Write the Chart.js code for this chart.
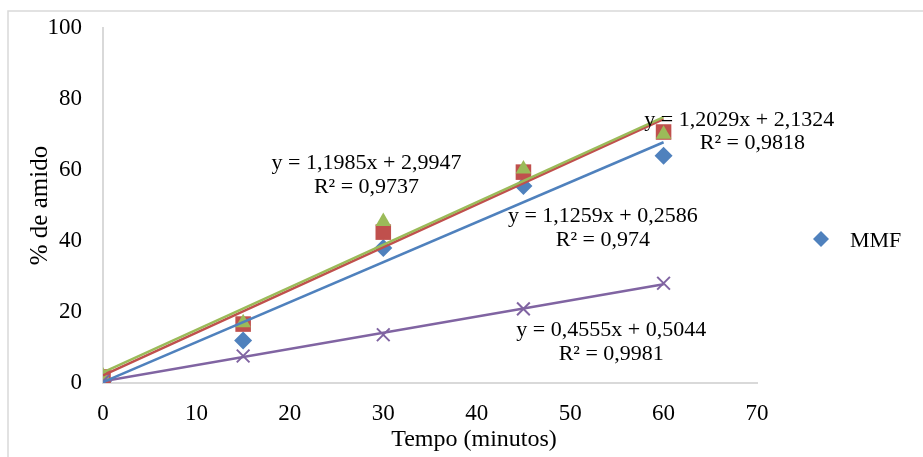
<!DOCTYPE html>
<html>
<head>
<meta charset="utf-8">
<script src="https://cdn.jsdelivr.net/npm/chart.js@4"></script>
<style>
  html, body { margin: 0; padding: 0; background: #fff; }
  #wrap { width: 923px; height: 457px; }
</style>
</head>
<body>
<div id="wrap"><canvas id="graph" width="923" height="457"></canvas></div>
<script>
// tempo (minutos)
const tempos = [0, 15, 30, 45, 60];

// % de amido por serie
const mmf = [0.5, 12, 38, 55.5, 64];
const serieVermelha = [1.7, 16.6, 42.5, 59.4, 70.7];
const serieVerde = [2, 17, 45.5, 60.3, 70.1];
const serieRoxa = [0.5, 7.6, 13.6, 20.9, 28.1];

const tendAzul = [1.1259, 0.2586];
const tendVermelha = [1.2029, 2.1324];
const tendVerde = [1.1985, 2.9947];
const tendRoxa = [0.4555, 0.5044];

const yTicks = [0, 20, 40, 60, 80, 100];
const xTicks = [0, 10, 20, 30, 40, 50, 60, 70];

const equacoes = [
  { text: "y = 1,1985x + 2,9947", x: 28.2, y: 62.0 },
  { text: "R² = 0,9737", x: 28.2, y: 55.2 },
  { text: "y = 1,2029x + 2,1324", x: 68.1, y: 73.9 },
  { text: "R² = 0,9818", x: 69.5, y: 67.6 },
  { text: "y = 1,1259x + 0,2586", x: 53.5, y: 47.1 },
  { text: "R² = 0,974", x: 53.5, y: 40.3 },
  { text: "y = 0,4555x + 0,5044", x: 54.4, y: 15.0 },
  { text: "R² = 0,9981", x: 54.4, y: 8.2 },
];

const AZUL = "#4F81BD";
const VERMELHO = "#C0504D";
const VERDE = "#9BBB59";
const ROXO = "#8064A2";
const SERIF = "'Liberation Serif', 'Times New Roman', serif";

const toPoints = (vals) => tempos.map((t, i) => ({ x: t, y: vals[i] }));
const trendPoints = ([m, b]) => [
  { x: tempos[0], y: m * tempos[0] + b },
  { x: tempos[tempos.length - 1], y: m * tempos[tempos.length - 1] + b },
];

const trendLine = (coef, color, order) => ({
  type: "line",
  data: trendPoints(coef),
  borderColor: color,
  borderWidth: 2.5,
  pointRadius: 0,
  fill: false,
  order: order,
});

// moldura cinza em volta do grafico
const frame = {
  id: "frame",
  beforeDraw(chart) {
    const ctx = chart.ctx;
    ctx.save();
    ctx.strokeStyle = "#d9d9d9";
    ctx.lineWidth = 1.5;
    ctx.strokeRect(8, 11, 1000, 600);
    ctx.restore();
  },
};

// textos das equacoes + titulo do eixo x (deslocado como no Excel)
const eqLabels = {
  id: "eqLabels",
  afterDatasetsDraw(chart) {
    const { ctx, scales, chartArea } = chart;
    ctx.save();
    ctx.font = "22px " + SERIF;
    ctx.fillStyle = "#000";
    ctx.textAlign = "center";
    ctx.textBaseline = "middle";
    equacoes.forEach((e) => {
      ctx.fillText(e.text, scales.x.getPixelForValue(e.x), scales.y.getPixelForValue(e.y));
    });
    ctx.font = "24px " + SERIF;
    ctx.fillText("Tempo (minutos)", (chartArea.left + chartArea.right) / 2 + 44, chartArea.bottom + 57);
    ctx.restore();
  },
};

// legenda so com MMF
const sideLegend = {
  id: "sideLegend",
  afterDraw(chart) {
    const ctx = chart.ctx;
    const ds = chart.data.datasets[0];
    const x = chart.chartArea.right + 64;
    const y = chart.chartArea.top + 211;
    ctx.save();
    ctx.fillStyle = ds.backgroundColor;
    ctx.strokeStyle = ds.borderColor;
    Chart.helpers.drawPoint(ctx, { pointStyle: "rectRot", radius: 8, borderWidth: 0 }, x, y);
    ctx.font = "22px " + SERIF;
    ctx.fillStyle = "#000";
    ctx.textBaseline = "middle";
    ctx.fillText(ds.label, x + 29, y + 2);
    ctx.restore();
  },
};

new Chart(document.getElementById("graph"), {
  type: "scatter",
  data: {
    datasets: [
      {
        label: "MMF",
        data: toPoints(mmf),
        pointStyle: "rectRot",
        pointRadius: 9,
        backgroundColor: AZUL,
        borderColor: AZUL,
        borderWidth: 0,
        order: 7,
      },
      {
        label: "Série 2",
        data: toPoints(serieVermelha),
        pointStyle: "rect",
        pointRadius: 11,
        backgroundColor: VERMELHO,
        borderColor: VERMELHO,
        borderWidth: 0,
        order: 6,
      },
      {
        label: "Série 3",
        data: toPoints(serieVerde),
        pointStyle: "triangle",
        pointRadius: 9,
        backgroundColor: VERDE,
        borderColor: VERDE,
        borderWidth: 0,
        order: 5,
      },
      {
        label: "Série 4",
        data: toPoints(serieRoxa),
        pointStyle: "crossRot",
        pointRadius: 9,
        backgroundColor: ROXO,
        borderColor: ROXO,
        borderWidth: 2,
        order: 4,
      },
      trendLine(tendAzul, AZUL, 2),
      trendLine(tendVermelha, VERMELHO, 1),
      trendLine(tendVerde, VERDE, 0),
      trendLine(tendRoxa, ROXO, 3),
    ],
  },
  options: {
    responsive: false,
    animation: false,
    layout: { autoPadding: false, padding: { left: 0, right: 166, top: 28, bottom: 0 } },
    plugins: {
      legend: { display: false },
      tooltip: { enabled: false },
    },
    scales: {
      x: {
        type: "linear",
        min: 0,
        max: 70,
        afterBuildTicks: (axis) => { axis.ticks = xTicks.map((v) => ({ value: v })); },
        afterFit: (axis) => {
          axis.height = 74;
          axis.paddingLeft = 0;
          axis.paddingRight = 0;
        },
        grid: { display: false, drawTicks: false },
        border: { display: true, color: "#d9d9d9", width: 2 },
        ticks: { color: "#000", font: { family: SERIF, size: 23 }, padding: 17 },
        title: { display: false },
      },
      y: {
        type: "linear",
        min: 0,
        max: 100,
        afterBuildTicks: (axis) => { axis.ticks = yTicks.map((v) => ({ value: v })); },
        afterFit: (axis) => {
          // o padding dos rotulos nao deve empurrar a area do grafico
          axis.width = 103;
          axis.paddingTop = 0;
          axis.paddingBottom = 0;
        },
        grid: { display: false, drawTicks: false },
        border: { display: true, color: "#d9d9d9", width: 2 },
        ticks: { color: "#000", font: { family: SERIF, size: 23 }, padding: 21 },
        title: {
          display: true,
          text: "% de amido",
          color: "#000",
          font: { family: SERIF, size: 25 },
          padding: { top: 25, bottom: 0 },
        },
      },
    },
  },
  plugins: [frame, eqLabels, sideLegend],
});
</script>
</body>
</html>
